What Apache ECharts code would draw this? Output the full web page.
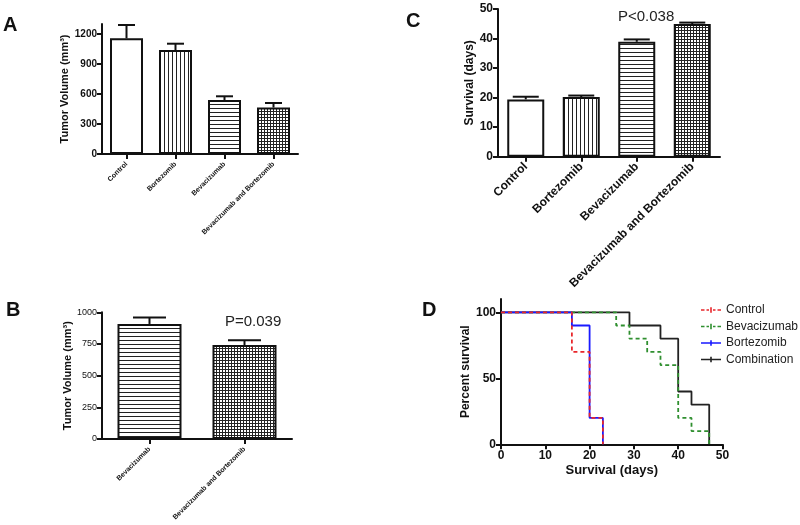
<!DOCTYPE html>
<html><head><meta charset="utf-8">
<script src="https://cdn.jsdelivr.net/npm/echarts@6/dist/echarts.min.js"></script>
<style>html,body{margin:0;padding:0;background:#fff}#c{width:800px;height:525px}</style>
</head><body><div id="c"></div>
<script>
// ---- data ----
const catsA = ['Control', 'Bortezomib', 'Bevacizumab', 'Bevacizumab and Bortezomib'];
const volA = [1157, 1040, 540, 465];
const volErrA = [133, 63, 37, 45];
const ticksA = [0, 300, 600, 900, 1200];

const catsB = ['Bevacizumab', 'Bevacizumab and Bortezomib'];
const volB = [908, 742];
const volErrB = [50, 38];
const ticksB = [0, 250, 500, 750, 1000];
const pTextB = 'P=0.039';

const catsC = ['Control', 'Bortezomib', 'Bevacizumab', 'Bevacizumab and Bortezomib'];
const survC = [19.4, 20.2, 38.9, 44.9];
const survErrC = [0.9, 0.5, 0.8, 0.5];
const ticksC = [0, 10, 20, 30, 40, 50];
const pTextC = 'P<0.038';

const kmControl = [[0, 100], [16, 70], [20, 20], [23, 0]];
const kmBevacizumab = [[0, 100], [26, 90], [29, 80], [33, 70], [36, 60], [40, 20], [43, 10], [47, 0]];
const kmBortezomib = [[0, 100], [16, 90], [20, 20], [23, 0]];
const kmCombination = [[0, 100], [29, 90], [36, 80], [40, 40], [43, 30], [47, 0]];
const ticksDy = [0, 50, 100];
const legendD = ['Control', 'Bevacizumab', 'Bortezomib', 'Combination'];

// ---- styles ----
const ARIAL = "'Liberation Sans',Arial,sans-serif";
function pat(kind, step) {
  const c = document.createElement('canvas');
  c.width = step; c.height = step;
  const g = c.getContext('2d');
  g.fillStyle = '#fff'; g.fillRect(0, 0, step, step);
  g.fillStyle = '#222';
  if (kind === 'v' || kind === 'grid') g.fillRect(0, 0, 1, step);
  if (kind === 'h' || kind === 'grid') g.fillRect(0, 0, step, 1);
  return { image: c, repeat: 'repeat' };
}
const fillWhite = '#fff', fillV = pat('v', 4), fillH = pat('h', 4), fillG = pat('grid', 3);
const fillsA = [fillWhite, fillV, fillH, fillG];
const fillsB = [fillH, fillG];
const fillsC = [fillWhite, fillV, fillH, fillG];

const ICON_SOLID = 'path://M0,2h20v1.6h-20zM9.2,0h1.6v5.6h-1.6z';
const ICON_DASH = 'path://M0,2h3.5v1.6h-3.5zM5.5,2h2.5v1.6h-2.5zM9.2,0h1.6v5.6h-1.6zM12,2h2.5v1.6h-2.5zM16.5,2h3.5v1.6h-3.5z';
const legendIcons = { Control: ICON_DASH, Bevacizumab: ICON_DASH, Bortezomib: ICON_SOLID, Combination: ICON_SOLID };

const chart = echarts.init(document.getElementById('c'), null, { renderer: 'canvas' });
const plain = v => String(v);

function catAxis(gi, cats, fs, weight, margin) {
  return {
    type: 'category', gridIndex: gi, data: cats, boundaryGap: true,
    axisLine: { show: true, lineStyle: { color: '#111', width: 2 } },
    axisTick: { show: true, alignWithLabel: true, length: 5, lineStyle: { color: '#111', width: 2 } },
    axisLabel: { interval: 0, rotate: 45, fontSize: fs, fontWeight: weight, color: '#111', fontFamily: ARIAL, margin: margin },
    splitLine: { show: false }
  };
}
function valAxis(gi, min, max, ticks, fs, weight, name, nameFs, nameGap) {
  return {
    type: 'value', gridIndex: gi, min: min, max: max,
    axisLine: { show: true, lineStyle: { color: '#111', width: 2 } },
    axisTick: { show: true, length: 5, customValues: ticks, lineStyle: { color: '#111', width: 2 } },
    axisLabel: { customValues: ticks, formatter: plain, fontSize: fs, fontWeight: weight, color: '#111', fontFamily: ARIAL, margin: 5 },
    splitLine: { show: false },
    name: name, nameLocation: 'middle', nameGap: nameGap, nameRotate: 90,
    nameTextStyle: { fontSize: nameFs, fontWeight: 'bold', color: '#111', fontFamily: ARIAL }
  };
}
function barSeries(gi, vals, fills, bw) {
  return {
    type: 'bar', xAxisIndex: gi, yAxisIndex: gi, barWidth: bw,
    data: vals.map((v, i) => ({ value: v, itemStyle: { color: fills[i] } })),
    itemStyle: { borderColor: '#111', borderWidth: 2 }, z: 2, silent: true
  };
}
function errSeries(gi, vals, errs, cap) {
  return {
    type: 'custom', xAxisIndex: gi, yAxisIndex: gi, z: 3, silent: true,
    data: vals.map((v, i) => [i, v, errs[i]]),
    encode: { x: 0, y: 1 },
    renderItem: function (params, api) {
      const i = api.value(0), v = api.value(1), e = api.value(2);
      const b = api.coord([i, v]);
      const t = api.coord([i, v + e]);
      const st = { stroke: '#111', lineWidth: 2 };
      return {
        type: 'group', children: [
          { type: 'line', shape: { x1: b[0], y1: b[1], x2: t[0], y2: t[1] }, style: st },
          { type: 'line', shape: { x1: t[0] - cap / 2, y1: t[1], x2: t[0] + cap / 2, y2: t[1] }, style: st }
        ]
      };
    }
  };
}
function km(name, data, color, dashed, z) {
  return {
    type: 'line', name: name, xAxisIndex: 3, yAxisIndex: 3, step: 'end', data: data,
    symbol: 'none', z: z, silent: true,
    lineStyle: { color: color, width: 1.8, type: dashed ? [4, 3] : 'solid' },
    itemStyle: { color: color }
  };
}

const option = {
  animation: false,
  backgroundColor: '#fff',
  grid: [
    { left: 102, top: 24, width: 196, height: 130 },
    { left: 102, top: 312.3, width: 190, height: 126.7 },
    { left: 498, top: 9, width: 222, height: 147.7 },
    { left: 501, top: 299.1, width: 221.5, height: 145.2 }
  ],
  xAxis: [
    catAxis(0, catsA, 7, 'bold', 9),
    catAxis(1, catsB, 7, 'bold', 9),
    catAxis(2, catsC, 12, 'bold', 8),
    {
      type: 'value', gridIndex: 3, min: 0, max: 50, interval: 10,
      axisLine: { show: true, lineStyle: { color: '#111', width: 2 } },
      axisTick: { show: true, length: 5, lineStyle: { color: '#111', width: 2 } },
      axisLabel: { fontSize: 12, fontWeight: 'bold', color: '#111', fontFamily: ARIAL, margin: 5 },
      splitLine: { show: false },
      name: 'Survival (days)', nameLocation: 'middle', nameGap: 20,
      nameTextStyle: { fontSize: 13, fontWeight: 'bold', color: '#111', fontFamily: ARIAL }
    }
  ],
  yAxis: [
    valAxis(0, 0, 1300, ticksA, 10, 'bold', 'Tumor Volume (mm³)', 11, 28),
    valAxis(1, 0, 1000, ticksB, 9, 'normal', 'Tumor Volume (mm³)', 11, 28),
    valAxis(2, 0, 50, ticksC, 12, 'bold', 'Survival (days)', 12, 17),
    valAxis(3, 0, 110, ticksDy, 12, 'bold', 'Percent survival', 12, 26)
  ],
  legend: {
    data: legendD.map(n => ({ name: n, icon: legendIcons[n] })),
    orient: 'vertical', left: 696, top: 299, itemGap: 4.5,
    itemWidth: 20, itemHeight: 6,
    textStyle: { fontSize: 12, color: '#222', fontFamily: ARIAL }, selectedMode: false
  },
  series: [
    barSeries(0, volA, fillsA, 33), errSeries(0, volA, volErrA, 17),
    barSeries(1, volB, fillsB, 64), errSeries(1, volB, volErrB, 33),
    barSeries(2, survC, fillsC, 37), errSeries(2, survC, survErrC, 26),
    km('Combination', kmCombination, '#222', false, 2),
    km('Bevacizumab', kmBevacizumab, '#2f8f2f', true, 3),
    km('Bortezomib', kmBortezomib, '#1a1aff', false, 4),
    km('Control', kmControl, '#e8262b', true, 5)
  ],
  graphic: [
    { type: 'text', left: 3, top: 15, style: { text: 'A', font: 'bold 20px ' + ARIAL, fill: '#111' } },
    { type: 'text', left: 6, top: 300, style: { text: 'B', font: 'bold 20px ' + ARIAL, fill: '#111' } },
    { type: 'text', left: 406, top: 11, style: { text: 'C', font: 'bold 20px ' + ARIAL, fill: '#111' } },
    { type: 'text', left: 422, top: 300, style: { text: 'D', font: 'bold 20px ' + ARIAL, fill: '#111' } },
    { type: 'text', left: 225, top: 314, style: { text: pTextB, font: '15px ' + ARIAL, fill: '#222' } },
    { type: 'text', left: 618, top: 9, style: { text: pTextC, font: '15px ' + ARIAL, fill: '#222' } }
  ]
};
chart.setOption(option);
</script>
</body></html>
